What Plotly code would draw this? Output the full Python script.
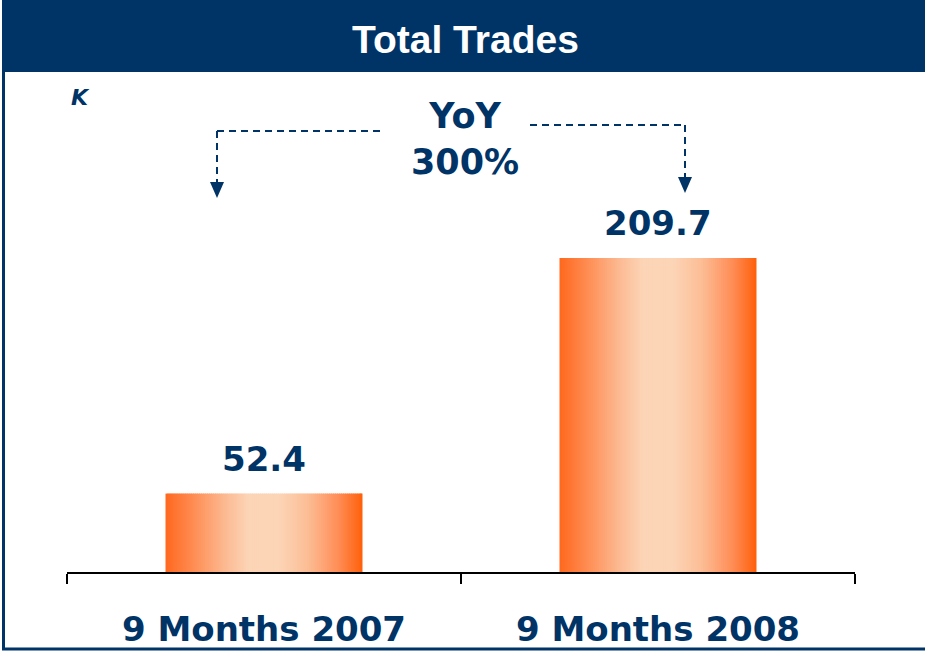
import plotly.graph_objects as go

# ---- data ----
categories = ["9 Months 2007", "9 Months 2008"]
values = [52.4, 209.7]
value_labels = ["52.4", "209.7"]
title_text = "Total Trades"
unit_text = "K"
yoy_text = "YoY<br>300%"

NAVY = "#003366"
W, H = 925, 651
ML, MR, MT, MB = 67, 70, 80, 79
plot_w = W - ML - MR
plot_h = H - MT - MB
px_per_unit = 1.497
y_top = plot_h / px_per_unit

# gradient stops for bar fill (horizontal)
grad_pos = [0.0, 0.12, 0.30, 0.42, 0.58, 0.72, 0.88, 1.0]
grad_col = [(255, 104, 30), (255, 135, 75), (252, 185, 145), (252, 212, 182),
            (252, 212, 182), (252, 190, 150), (255, 140, 85), (255, 96, 10)]

def grad_color(t):
    for i in range(len(grad_pos) - 1):
        if grad_pos[i] <= t <= grad_pos[i + 1]:
            f = (t - grad_pos[i]) / (grad_pos[i + 1] - grad_pos[i])
            c = [round(a + (b - a) * f) for a, b in zip(grad_col[i], grad_col[i + 1])]
            return "rgb(%d,%d,%d)" % tuple(c)
    return "rgb(%d,%d,%d)" % grad_col[-1]

fig = go.Figure()
bar_width = 0.5
N = 100
step = bar_width / N
for i in range(N):
    t = (i + 0.5) / N
    fig.add_trace(go.Bar(
        x=categories, y=values,
        width=min(step * 1.6, bar_width - i * step), offset=-bar_width / 2 + i * step,
        marker=dict(color=grad_color(t), line=dict(width=0)),
        showlegend=False, hoverinfo="skip",
    ))

def px2paper(x, y):
    return (x - ML) / plot_w, (H - MB - y) / plot_h

shapes = []
# title bar
x0, y0 = px2paper(2, 72)
x1, y1 = px2paper(W, 0)
shapes.append(dict(type="rect", xref="paper", yref="paper", x0=x0, y0=y0, x1=x1, y1=y1,
                   fillcolor=NAVY, line=dict(width=0), layer="below"))
# frame: left and bottom edges as one open path
p1 = px2paper(3.5, 72); p2 = px2paper(3.5, 649); p3 = px2paper(W + 5, 649)
shapes.append(dict(type="path", xref="paper", yref="paper",
                   path="M %f %f L %f %f L %f %f" % (p1[0], p1[1], p2[0], p2[1], p3[0], p3[1]),
                   line=dict(color=NAVY, width=3)))
# keep the right edge clear below the title bar
c0 = px2paper(908, 73); c1 = px2paper(W + 5, 647)
shapes.append(dict(type="rect", xref="paper", yref="paper", x0=c0[0], y0=c0[1], x1=c1[0], y1=c1[1],
                   fillcolor="white", line=dict(width=0), layer="above"))

def dashed_arrow(xs, ys, xe, ye_tip):
    p = px2paper(xs, ys); q = px2paper(xe, ys)
    shapes.append(dict(type="line", xref="paper", yref="paper", x0=p[0], y0=p[1], x1=q[0], y1=q[1],
                       line=dict(color=NAVY, width=2, dash="7px,5px")))
    r = px2paper(xe, ye_tip - 15)
    shapes.append(dict(type="line", xref="paper", yref="paper", x0=q[0], y0=q[1], x1=r[0], y1=r[1],
                       line=dict(color=NAVY, width=2, dash="7px,5px")))
    t1 = px2paper(xe - 7, ye_tip - 16); t2 = px2paper(xe + 7, ye_tip - 16); t3 = px2paper(xe, ye_tip)
    path = "M %f %f L %f %f L %f %f Z" % (t1[0], t1[1], t2[0], t2[1], t3[0], t3[1])
    shapes.append(dict(type="path", xref="paper", yref="paper", path=path,
                       fillcolor=NAVY, line=dict(width=0)))

dashed_arrow(380, 131, 217, 198)
dashed_arrow(530, 125, 685, 193)

annotations = []
tx, ty = px2paper(465, 39)
annotations.append(dict(text=title_text, xref="paper", yref="paper", x=tx, y=ty,
                        showarrow=False, font=dict(family="Liberation Sans, Arial",
                                                   size=39, color="white", weight="bold"),
                        xanchor="center", yanchor="middle"))
kx, ky = px2paper(80, 97)
annotations.append(dict(text="<i>" + unit_text + "</i>", xref="paper", yref="paper", x=kx, y=ky,
                        showarrow=False, font=dict(family="DejaVu Sans", size=22, color=NAVY, weight="bold"),
                        xanchor="center", yanchor="middle"))
yx, yy = px2paper(465, 139)
annotations.append(dict(text=yoy_text, xref="paper", yref="paper", x=yx, y=yy,
                        showarrow=False, font=dict(family="DejaVu Sans", size=35, color=NAVY, weight="bold"),
                        xanchor="center", yanchor="middle", align="center"))
for c, v, lbl in zip(categories, values, value_labels):
    annotations.append(dict(text=lbl, x=c, y=v, xref="x", yref="y", showarrow=False,
                            yshift=35, yanchor="middle",
                            font=dict(family="DejaVu Sans", size=34, color=NAVY, weight="bold")))

fig.update_layout(
    width=W, height=H,
    margin=dict(l=ML, r=MR, t=MT, b=MB, autoexpand=False),
    paper_bgcolor="white", plot_bgcolor="white",
    barmode="overlay",
    shapes=shapes, annotations=annotations,
    xaxis=dict(type="category", tickson="boundaries", ticks="outside", ticklen=10, tickwidth=2,
               tickcolor="black", showline=True, linecolor="black", linewidth=2,
               showgrid=False, ticklabelstandoff=26, automargin=False,
               tickfont=dict(family="DejaVu Sans", size=34, color=NAVY, weight="bold"),
               range=[-0.5, 1.5]),
    yaxis=dict(range=[0, y_top], visible=False, showgrid=False, zeroline=False, automargin=False),
)

fig.write_html("out.html", config={"displayModeBar": False},
               post_script="document.body.style.margin='0';document.body.style.overflow='hidden';")
